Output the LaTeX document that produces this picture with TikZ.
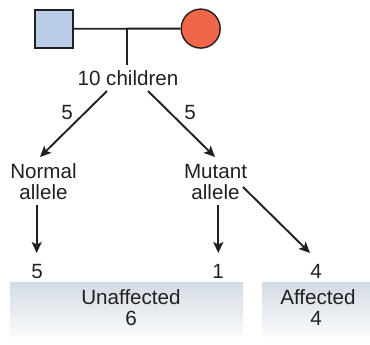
\documentclass[tikz,border=0pt]{standalone}
\usepackage{fontspec}
\setmainfont{Liberation Sans}
\usetikzlibrary{arrows.meta}
\definecolor{malefill}{HTML}{B9CCE8}
\definecolor{femalefill}{HTML}{EF6748}
\definecolor{ink}{HTML}{231F20}
\definecolor{boxtop}{HTML}{D3DBE4}
\definecolor{boxbot}{HTML}{FAFBFC}
\begin{document}
\begin{tikzpicture}[x=1pt,y=-1pt,
  lbl/.style={inner sep=0pt,anchor=base,text=ink,font=\fontsize{20.6}{21}\selectfont},
  two/.style={lbl,align=center},
  conn/.style={draw=ink,line width=1.9pt},
  arr/.style={conn,-{Stealth[length=11pt,width=10pt,inset=2.5pt]}},
  groupbox/.style={draw=none,top color=boxtop,bottom color=boxbot,inner sep=0pt}]
\useasboundingbox (0,0) rectangle (370,345);
% boxes
\node[groupbox,minimum width=233pt,minimum height=54pt] (unaff) at (126.5,309) {};
\node[groupbox,minimum width=108pt,minimum height=54pt] (aff) at (316,309) {};
% parents
\node[draw=ink,line width=1.8pt,fill=malefill,minimum width=38pt,minimum height=38pt,inner sep=0pt] (male) at (54,28.8) {};
\node[draw=ink,line width=1.4pt,fill=femalefill,circle,minimum size=39pt,inner sep=0pt] (female) at (200.7,28.6) {};
\coordinate (mid) at (127.3,29);
\coordinate (drop) at (127.3,65);
\draw[conn] (male.east) -- (female.west);
\draw[conn] (mid) -- (drop);
% labels
\node[lbl] (kids) at (128,86) {10 children};
\node[lbl] (fivel) at (67,120) {5};
\node[lbl] (fiver) at (190,120) {5};
\node[two] (normal) at (43.5,200) {Normal\\allele};
\node[two] (mutant) at (215.5,200) {Mutant\\allele};
\node[lbl] (nfive) at (37,278) {5};
\node[lbl] (mone) at (218,278) {1};
\node[lbl] (mfour) at (316,278) {4};
\node[lbl] (unafft) at (131,304) {Unaffected};
\node[lbl] (unaffn) at (131,325) {6};
\node[lbl] (afft) at (318,304) {Affected};
\node[lbl] (affn) at (316,325) {4};
% arrow end points
\coordinate (kl) at (107,91);
\coordinate (kr) at (148,91);
\coordinate (nl) at (40,157);
\coordinate (mr) at (215,157);
\coordinate (ns) at (36.7,205);
\coordinate (ne) at (36.7,253);
\coordinate (ms) at (218.3,205);
\coordinate (me) at (218.3,253);
\coordinate (ds) at (243,187);
\coordinate (de) at (310,253);
\draw[arr] (kl) -- (nl);
\draw[arr] (kr) -- (mr);
\draw[arr] (ns) -- (ne);
\draw[arr] (ms) -- (me);
\draw[arr] (ds) -- (de);
\end{tikzpicture}
\end{document}
